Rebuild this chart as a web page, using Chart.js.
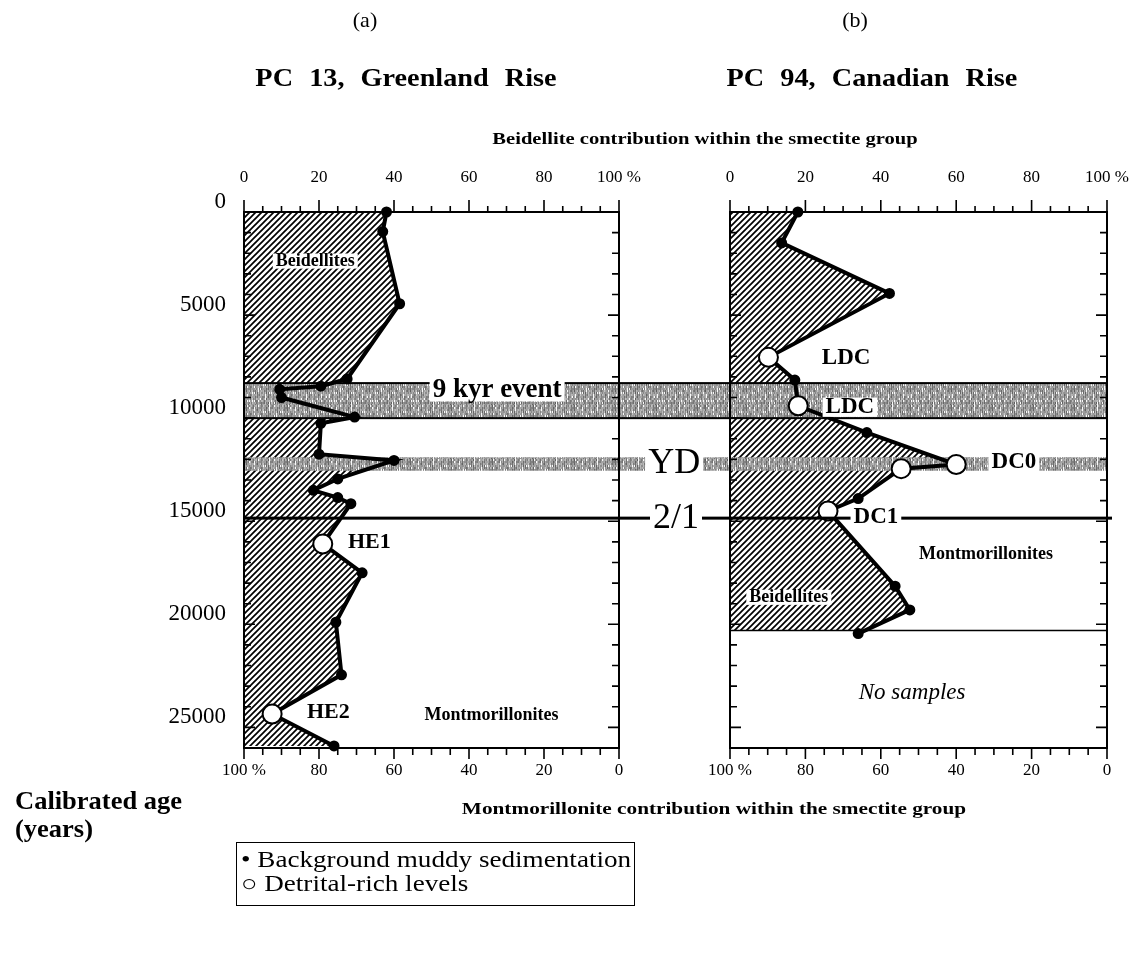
<!DOCTYPE html>
<html>
<head>
<meta charset="utf-8">
<script src="https://cdn.jsdelivr.net/npm/chart.js@4.4.0/dist/chart.umd.min.js"></script>
<style>
  body { margin: 0; background: #fff; }
  #wrap { position: relative; width: 1144px; height: 961px; overflow: hidden;
          font-family: "Liberation Serif", "Times New Roman", serif; color: #000; }
  canvas { position: absolute; top: 0; }
  .t { position: absolute; white-space: pre; line-height: 1; transform: translate(-50%, -50%); }
  .l { position: absolute; white-space: pre; line-height: 1; transform-origin: left center; }
  #legend { position: absolute; left: 236px; top: 842px; width: 397px; height: 62px;
            border: 1.5px solid #000; font-size: 23px; }
  #legend div { position: absolute; left: 4px; white-space: pre; line-height: 1;
                transform: scaleX(1.18); transform-origin: left center; }
</style>
</head>
<body>
<div id="wrap">
  <canvas id="chartA" width="705" height="961" style="left:0"></canvas>
  <canvas id="chartB" width="439" height="961" style="left:705px"></canvas>

  <div class="t" style="left:365px;top:20px;font-size:22px">(a)</div>
  <div class="t" style="left:855px;top:20px;font-size:22px">(b)</div>
  <div class="t" style="left:406px;top:77px;font-size:25px;font-weight:bold;word-spacing:8px;transform:translate(-50%,-50%) scaleX(1.13)">PC 13, Greenland Rise</div>
  <div class="t" style="left:872px;top:77px;font-size:25px;font-weight:bold;word-spacing:8px;transform:translate(-50%,-50%) scaleX(1.13)">PC 94, Canadian Rise</div>
  <div class="t" style="left:705px;top:138px;font-size:17px;font-weight:bold;transform:translate(-50%,-50%) scaleX(1.21)">Beidellite contribution within the smectite group</div>
  <div class="t" style="left:714px;top:808px;font-size:17px;font-weight:bold;transform:translate(-50%,-50%) scaleX(1.25)">Montmorillonite contribution within the smectite group</div>
  <div class="l" style="left:15px;top:788px;font-size:25px;font-weight:bold;transform:scaleX(1.06)">Calibrated age</div>
  <div class="l" style="left:15px;top:816px;font-size:25px;font-weight:bold;transform:scaleX(1.06)">(years)</div>

  <div id="legend">
    <div style="top:5px">• Background muddy sedimentation</div>
    <div style="top:29px">○ Detrital-rich levels</div>
  </div>
</div>

<script>
const SERIF = "'Liberation Serif', 'Times New Roman', serif";

// PC 13, Greenland Rise
const pc13Age = [0, 950, 4450, 8100, 8450, 8600, 9000, 9950, 10250, 11750, 12050, 12950, 13500, 13850, 14150, 16100, 17500, 19900, 22450, 24350, 25900];
const pc13Beidellite = [38, 37, 41.5, 27.5, 20.5, 9.5, 10, 29.5, 20.5, 20, 40, 25, 18.5, 25, 28.5, 21, 31.5, 24.5, 26, 7.5, 24];
const pc13Kind = ["bg", "bg", "bg", "bg", "bg", "bg", "bg", "bg", "bg", "bg", "bg", "bg", "bg", "bg", "bg", "det", "bg", "bg", "bg", "det", "bg"];

// PC 94, Canadian Rise
const pc94Age = [0, 1500, 3950, 7050, 8150, 9400, 10700, 12250, 12450, 13900, 14500, 18150, 19300, 20450];
const pc94Beidellite = [18, 13.7, 42.3, 10.2, 17.2, 18.1, 36.3, 60, 45.4, 34, 26, 43.8, 47.7, 34];
const pc94Kind = ["bg", "bg", "bg", "det", "bg", "det", "bg", "det", "det", "bg", "det", "bg", "bg", "bg"];
const pc94LastSample = 20300;

// events
const bandNames = ["9 kyr event", "YD"];
const bandStart = [8300, 11900];
const bandEnd = [10000, 12550];
const boundaryAge = 14850;

function axisPct(v) {
  return v % 20 === 0 ? (v === 100 ? "100 %" : String(v)) : "";
}
function axisAge(v) {
  return v % 5000 === 0 ? String(v) : "";
}

// patterns
function makeHatch() {
  const c = document.createElement("canvas");
  c.width = 6; c.height = 6;
  const g = c.getContext("2d");
  g.strokeStyle = "#000";
  g.lineWidth = 1.7;
  g.beginPath();
  g.moveTo(-1, 7); g.lineTo(7, -1);
  g.moveTo(-1, 1); g.lineTo(1, -1);
  g.moveTo(5, 7); g.lineTo(7, 5);
  g.stroke();
  return g.createPattern(c, "repeat");
}
function makeStipple() {
  const W = 41, H = 27;
  const c = document.createElement("canvas");
  c.width = W; c.height = H;
  const g = c.getContext("2d");
  const img = g.createImageData(W, H);
  for (let j = 0; j < H; j++) {
    for (let i = 0; i < W; i++) {
      const jj = Math.floor(j / 2);
      const h = ((i * 37 + jj * 91 + i * i * 13 + jj * jj * 7 + i * jj * 5) % 19) / 18;
      const col = ((i * i * 7 + i * 3) % 11) / 10;
      const mix = 0.6 * h + 0.4 * col;
      const v = mix > 0.78 ? 250 : Math.round(95 + 130 * mix);
      const k = (j * W + i) * 4;
      img.data[k] = v; img.data[k + 1] = v; img.data[k + 2] = v; img.data[k + 3] = 255;
    }
  }
  g.putImageData(img, 0, 0);
  return g.createPattern(c, "repeat");
}
const hatch = makeHatch();
const stipple = makeStipple();

function drawLabel(ctx, lab, px, py) {
  ctx.font = lab.font;
  ctx.textBaseline = "middle";
  ctx.textAlign = lab.align || "center";
  const w = ctx.measureText(lab.text).width;
  const size = parseFloat(lab.font.match(/(\d+)px/)[1]);
  if (lab.bg) {
    const left = lab.align === "left" ? px : px - w / 2;
    ctx.fillStyle = "#fff";
    ctx.fillRect(left - 3, py - size * 0.42, w + 6, size * 0.84);
  }
  ctx.fillStyle = "#000";
  ctx.fillText(lab.text, px, py);
}

const profileDecor = {
  id: "profileDecor",
  beforeDatasetsDraw(chart, args, opts) {
    const { ctx, chartArea: area } = chart;
    const x = chart.scales.x, y = chart.scales.y;
    const pts = chart.data.datasets[0].data;
    // hatched beidellite area
    ctx.save();
    ctx.beginPath();
    ctx.rect(area.left, area.top, area.right - area.left, y.getPixelForValue(opts.fillLimit) - area.top);
    ctx.clip();
    ctx.beginPath();
    ctx.moveTo(x.getPixelForValue(0), y.getPixelForValue(pts[0].y));
    pts.forEach(p => ctx.lineTo(x.getPixelForValue(p.x), y.getPixelForValue(p.y)));
    ctx.lineTo(x.getPixelForValue(0), y.getPixelForValue(pts[pts.length - 1].y));
    ctx.closePath();
    ctx.fillStyle = hatch;
    ctx.fill();
    ctx.restore();
    // event bands, running across the gap between the panels
    const x0 = opts.side === "left" ? area.left : 0;
    const x1 = opts.side === "left" ? chart.width : area.right;
    ctx.save();
    bandNames.forEach((name, i) => {
      const ya = y.getPixelForValue(bandStart[i]);
      const yb = y.getPixelForValue(bandEnd[i]);
      ctx.fillStyle = stipple;
      ctx.fillRect(x0, ya, x1 - x0, yb - ya);
      if (opts.bandBorders[i]) {
        ctx.fillStyle = "#000";
        ctx.fillRect(x0, ya - 1, x1 - x0, 2);
        ctx.fillRect(x0, yb - 1, x1 - x0, 2);
      }
    });
    ctx.restore();
  },
  afterDatasetsDraw(chart, args, opts) {
    const { ctx, chartArea: area } = chart;
    const x = chart.scales.x, x2 = chart.scales.x2, y = chart.scales.y;
    ctx.save();
    // 2/1 boundary
    const x0 = opts.side === "left" ? area.left : 0;
    const x1 = opts.side === "left" ? chart.width : area.right + 5;
    const yb = y.getPixelForValue(boundaryAge);
    ctx.fillStyle = "#000";
    ctx.fillRect(x0, yb - 1.5, x1 - x0, 3);
    // end of sampled interval
    if (opts.fillLimit < y.max) {
      const yl = y.getPixelForValue(opts.fillLimit);
      ctx.fillRect(area.left, yl - 0.75, area.right - area.left, 1.5);
    }
    // frame
    ctx.strokeStyle = "#000";
    ctx.lineWidth = 2;
    ctx.strokeRect(area.left, area.top, area.right - area.left, area.bottom - area.top);
    // tick marks
    ctx.lineWidth = 1.6;
    ctx.beginPath();
    x.ticks.forEach(t => {
      const p = x.getPixelForValue(t.value);
      const len = t.value % 20 === 0 ? 12 : 6;
      ctx.moveTo(p, area.top); ctx.lineTo(p, area.top - len);
    });
    x2.ticks.forEach(t => {
      const p = x2.getPixelForValue(t.value);
      const len = t.value % 20 === 0 ? 11 : 7;
      ctx.moveTo(p, area.bottom); ctx.lineTo(p, area.bottom + len);
    });
    y.ticks.forEach(t => {
      const p = y.getPixelForValue(t.value);
      const len = t.value % 5000 === 0 ? 11 : 7;
      ctx.moveTo(area.left, p); ctx.lineTo(area.left + len, p);
      ctx.moveTo(area.right, p); ctx.lineTo(area.right - len, p);
    });
    ctx.stroke();
    // annotations
    opts.labels.forEach(lab => drawLabel(ctx, lab, x.getPixelForValue(lab.x), y.getPixelForValue(lab.y)));
    ctx.restore();
  }
};

function buildPanel(canvasId, ages, values, kinds, cfg) {
  return new Chart(document.getElementById(canvasId), {
    type: "scatter",
    data: {
      datasets: [{
        data: ages.map((a, i) => ({ x: values[i], y: a })),
        showLine: true,
        borderColor: "#000",
        borderWidth: 4,
        clip: false,
        pointRadius: c => kinds[c.dataIndex] === "det" ? 9.5 : 4.5,
        pointBackgroundColor: c => kinds[c.dataIndex] === "det" ? "#fff" : "#000",
        pointBorderColor: "#000",
        pointBorderWidth: 2
      }]
    },
    options: {
      responsive: false,
      animation: false,
      devicePixelRatio: 1,
      layout: { padding: cfg.padding },
      plugins: {
        legend: { display: false },
        tooltip: { enabled: false },
        profileDecor: cfg.decor
      },
      scales: {
        x: {
          type: "linear", position: "top", min: 0, max: 100,
          ticks: { stepSize: 5, autoSkip: false, maxRotation: 0, padding: 0, color: "#000",
                   font: { family: SERIF, size: 17 }, callback: axisPct },
          grid: { display: false, drawTicks: true, tickLength: 24 },
          border: { display: false },
          afterFit: s => { s.height = 45; }
        },
        x2: {
          type: "linear", position: "bottom", reverse: true, min: 0, max: 100,
          ticks: { stepSize: 5, autoSkip: false, maxRotation: 0, padding: 0, color: "#000",
                   font: { family: SERIF, size: 17 }, callback: axisPct },
          grid: { display: false, drawTicks: true, tickLength: 12 },
          border: { display: false },
          afterFit: s => { s.height = 45; }
        },
        y: {
          type: "linear", reverse: true, min: 0, max: 26000, display: cfg.showAge,
          ticks: { stepSize: 1000, autoSkip: false, padding: 18, labelOffset: -10, color: "#000",
                   font: { family: SERIF, size: 23 }, callback: axisAge },
          grid: { display: false, drawTicks: false },
          border: { display: false },
          afterFit: s => { s.width = cfg.showAge ? 100 : 0; }
        }
      }
    },
    plugins: [profileDecor]
  });
}

const B = "bold ";
buildPanel("chartA", pc13Age, pc13Beidellite, pc13Kind, {
  showAge: true,
  padding: { left: 144, right: 86, top: 167, bottom: 168 },
  decor: {
    side: "left",
    fillLimit: 26000,
    bandBorders: [true, false],
    labels: [
      { text: "Beidellites", x: 19, y: 2380, font: B + "18px " + SERIF, bg: true },
      { text: "9 kyr event", x: 67.5, y: 8640, font: B + "27px " + SERIF, bg: true },
      { text: "HE1", x: 27.7, y: 16020, font: B + "22px " + SERIF, align: "left" },
      { text: "HE2", x: 16.8, y: 24270, font: B + "22px " + SERIF, align: "left" },
      { text: "Montmorillonites", x: 66, y: 24420, font: B + "18px " + SERIF },
      { text: bandNames[1], x: 114.7, y: 12180, font: "36px " + SERIF, bg: true },
      { text: "2/1", x: 115.2, y: boundaryAge, font: "36px " + SERIF, bg: true }
    ]
  }
});

buildPanel("chartB", pc94Age, pc94Beidellite, pc94Kind, {
  showAge: false,
  padding: { left: 25, right: 37, top: 167, bottom: 168 },
  decor: {
    side: "right",
    fillLimit: pc94LastSample,
    bandBorders: [true, false],
    labels: [
      { text: "LDC", x: 30.8, y: 7090, font: B + "23px " + SERIF },
      { text: "LDC", x: 31.8, y: 9470, font: B + "23px " + SERIF, bg: true },
      { text: "DC0", x: 75.3, y: 12140, font: B + "23px " + SERIF, bg: true },
      { text: "DC1", x: 38.7, y: 14810, font: B + "23px " + SERIF, bg: true },
      { text: "Montmorillonites", x: 67.9, y: 16600, font: B + "18px " + SERIF },
      { text: "Beidellites", x: 15.6, y: 18690, font: B + "18px " + SERIF, bg: true },
      { text: "No samples", x: 48.3, y: 23350, font: "italic 23px " + SERIF }
    ]
  }
});
</script>
</body>
</html>
